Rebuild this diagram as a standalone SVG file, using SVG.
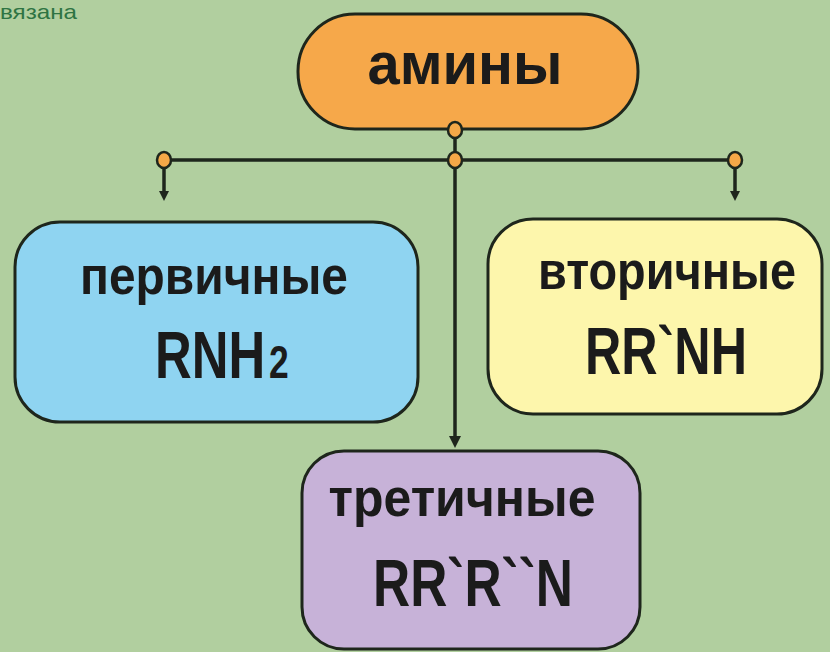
<svg xmlns="http://www.w3.org/2000/svg" width="830" height="652" viewBox="0 0 830 652">
<defs>
<style>
.box{stroke:#1e261c;stroke-width:3}
.t{font-family:"Liberation Sans",Arial,sans-serif;font-weight:bold;fill:#1b1b1b}
.ln{stroke:#1e261c;stroke-width:3.5;fill:none}
.dot{fill:#f5a847;stroke:#1e261c;stroke-width:2.5}
.tri{fill:#1e261c}
</style>
</defs>
<rect x="0" y="0" width="830" height="652" fill="#b1cf9f"/>
<text x="0" y="19" font-family="'Liberation Sans',Arial,sans-serif" font-size="21" fill="#2e7443" textLength="77" lengthAdjust="spacingAndGlyphs">вязана</text>

<g id="amines">
<rect class="box" x="298" y="14" width="340" height="115" rx="57" fill="#f6a84a"/>
<text class="t" x="465" y="84" font-size="60" text-anchor="middle" textLength="195" lengthAdjust="spacingAndGlyphs">амины</text>
</g>

<g id="primary">
<rect class="box" x="15" y="222" width="403" height="200" rx="45" fill="#8fd4f1"/>
<text class="t" x="214" y="294" font-size="54" text-anchor="middle" textLength="268" lengthAdjust="spacingAndGlyphs">первичные</text>
<text class="t" transform="translate(155 378) scale(0.77 1)" x="0" y="0" font-size="66">RNH<tspan dx="5" font-size="46">2</tspan></text>
</g>

<g id="secondary">
<rect class="box" x="488" y="219" width="334" height="195" rx="45" fill="#fdf6ac"/>
<text class="t" x="667" y="289" font-size="53" text-anchor="middle" textLength="258" lengthAdjust="spacingAndGlyphs">вторичные</text>
<text class="t" x="585" y="374" font-size="66" textLength="162" lengthAdjust="spacingAndGlyphs">RR`NH</text>
</g>

<g id="tertiary">
<rect class="box" x="302" y="451" width="338" height="198" rx="42" fill="#c7b2d8"/>
<text class="t" x="462" y="516" font-size="54" text-anchor="middle" textLength="267" lengthAdjust="spacingAndGlyphs">третичные</text>
<text class="t" x="373" y="606" font-size="66" textLength="200" lengthAdjust="spacingAndGlyphs">RR`R``N</text>
</g>

<g id="connectors">
<line class="ln" x1="455" y1="130" x2="455" y2="440"/>
<line class="ln" x1="164" y1="160" x2="735" y2="160"/>
<line class="ln" x1="164" y1="160" x2="164" y2="192"/>
<line class="ln" x1="735" y1="160" x2="735" y2="192"/>
<polygon class="tri" points="159,191 169,191 164,201"/>
<polygon class="tri" points="730,191 740,191 735,201"/>
<polygon class="tri" points="449,436 461,436 455,448"/>
<ellipse class="dot" cx="455" cy="130" rx="7" ry="8"/>
<ellipse class="dot" cx="455" cy="160" rx="7" ry="8"/>
<ellipse class="dot" cx="164" cy="160" rx="7" ry="8"/>
<ellipse class="dot" cx="735" cy="160" rx="7" ry="8"/>
</g>
</svg>
